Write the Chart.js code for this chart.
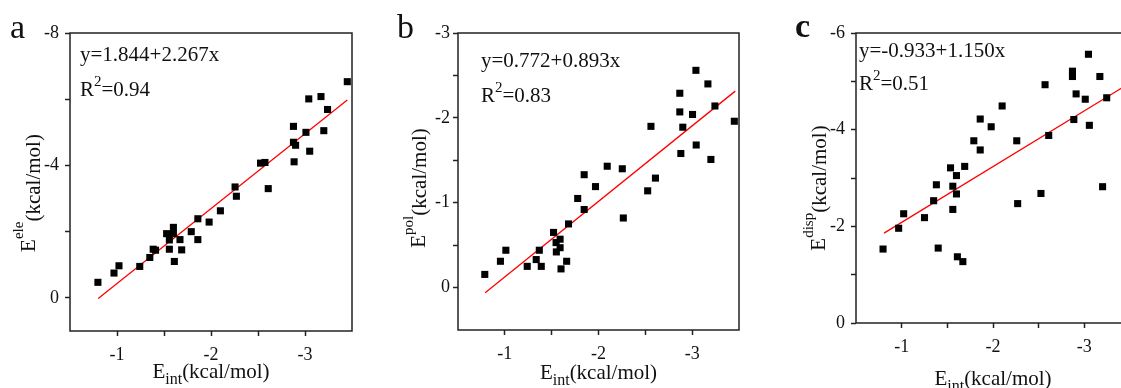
<!DOCTYPE html>
<html><head><meta charset="utf-8">
<script src="https://cdn.jsdelivr.net/npm/chart.js@4/dist/chart.umd.min.js"></script>
<style>
html,body{margin:0;padding:0;background:#fff;overflow:hidden;width:1121px;height:388px;position:relative;}
canvas{position:absolute;top:0;}
</style></head><body>
<canvas id="ca" width="380" height="388" style="left:0px;width:380px;height:388px"></canvas>
<canvas id="cb" width="380" height="388" style="left:380px;width:380px;height:388px"></canvas>
<canvas id="cc" width="380" height="388" style="left:760px;width:380px;height:388px"></canvas>
<script>
// ---------- data ----------
const eintA = [-0.797,-0.968,-1.021,-1.242,-1.349,-1.385,-1.41,-1.528,-1.557,-1.557,-1.60,-1.60,-1.61,-1.67,-1.688,-1.79,-1.86,-1.86,-1.98,-2.10,-2.256,-2.27,-2.527,-2.574,-2.609,-2.877,-2.877,-2.90,-2.884,-3.01,-3.04,-3.05,-3.17,-3.20,-3.24,-3.45];
const eeleA = [-0.47,-0.75,-0.97,-0.95,-1.22,-1.47,-1.44,-1.94,-1.75,-1.47,-2.13,-1.94,-1.10,-1.76,-1.45,-2.00,-2.39,-1.76,-2.29,-2.63,-3.35,-3.07,-4.07,-4.09,-3.30,-5.18,-4.70,-4.61,-4.11,-5.00,-6.01,-4.43,-6.08,-5.05,-5.69,-6.53];
const fitAx = [-0.80, -3.45];
const fitAy = [0.02, -5.98];

const eintB = [-0.786,-0.953,-1.011,-1.239,-1.335,-1.368,-1.389,-1.52,-1.547,-1.55,-1.59,-1.59,-1.60,-1.66,-1.68,-1.778,-1.847,-1.847,-1.968,-2.093,-2.254,-2.265,-2.525,-2.56,-2.608,-2.868,-2.868,-2.879,-2.90,-3.004,-3.04,-3.043,-3.168,-3.20,-3.243,-3.45];
const epolB = [-0.155,-0.31,-0.44,-0.25,-0.33,-0.44,-0.25,-0.65,-0.53,-0.42,-0.57,-0.47,-0.22,-0.31,-0.75,-1.05,-0.92,-1.33,-1.19,-1.43,-1.40,-0.82,-1.14,-1.90,-1.29,-2.29,-2.07,-1.58,-1.89,-2.04,-2.56,-1.68,-2.40,-1.51,-2.14,-1.96];
const fitBx = [-0.79, -3.46];
const fitBy = [0.06, -2.315];

const eintC = [-0.796,-0.967,-1.022,-1.25,-1.35,-1.38,-1.40,-1.535,-1.56,-1.56,-1.60,-1.60,-1.61,-1.67,-1.69,-1.79,-1.86,-1.86,-1.98,-2.10,-2.26,-2.27,-2.525,-2.57,-2.61,-2.87,-2.87,-2.885,-2.91,-3.01,-3.045,-3.055,-3.17,-3.20,-3.245];
const edispC = [-1.53,-1.96,-2.26,-2.18,-2.53,-2.86,-1.55,-3.21,-2.83,-2.35,-3.05,-2.67,-1.37,-1.27,-3.24,-3.77,-4.22,-3.58,-4.06,-4.49,-3.77,-2.47,-2.68,-4.93,-3.88,-5.21,-5.10,-4.21,-4.74,-4.63,-5.56,-4.09,-5.10,-2.82,-4.66];
const fitCx = [-0.807, -3.45];
const fitCy = [-1.86, -4.91];

const xMajor = [-1, -2, -3];
const xMinor = [-1.5, -2.5];
const yMajorA = [-8, -4, 0];   const yMinorA = [-6, -2];
const yMajorB = [-3, -2, -1, 0]; const yMinorB = [-2.5, -1.5, -0.5];
const yMajorC = [-6, -4, -2, 0]; const yMinorC = [-5, -3, -1];

const eqA = 'y=1.844+2.267x', r2A = '=0.94';
const eqB = 'y=0.772+0.893x', r2B = '=0.83';
const eqC = 'y=-0.933+1.150x', r2C = '=0.51';

// ---------- helpers ----------
const FONT = '"Liberation Serif", "Times New Roman", serif';
const INK = '#111';
function zip(xs, ys){ return xs.map((x,i)=>({x:x, y:ys[i]})); }
function rich(ctx, x, y, segs, align){
  let w = 0;
  segs.forEach(s=>{ ctx.font = (s.bold?'bold ':'') + s.size + 'px ' + FONT; s.w = ctx.measureText(s.t).width; w += s.w; });
  let cx = align === 'center' ? x - w/2 : x;
  segs.forEach(s=>{ ctx.font = (s.bold?'bold ':'') + s.size + 'px ' + FONT; ctx.fillText(s.t, cx, y + (s.dy||0)); cx += s.w; });
}

const decor = {
  id: 'decor',
  afterDraw(chart, args, o){
    const ctx = chart.ctx, ca = chart.chartArea;
    ctx.save();
    ctx.strokeStyle = '#222'; ctx.lineWidth = 1.5;
    ctx.strokeRect(ca.left, ca.top, ca.right - ca.left, ca.bottom - ca.top);
    ctx.fillStyle = INK; ctx.textBaseline = 'alphabetic';
    // panel letter
    rich(ctx, o.letterX, o.letterY, [{t:o.letter, size:34, bold:o.letterBold}], 'left');
    // equation + R2
    rich(ctx, ca.left + o.eqDx, ca.top + o.eqDy, [{t:o.eq, size:21}], 'left');
    rich(ctx, ca.left + o.eqDx, ca.top + o.r2Dy, [{t:'R', size:21},{t:'2', size:15, dy:-10},{t:o.r2, size:21}], 'left');
    // x title
    rich(ctx, (ca.left + ca.right)/2, o.xTitleY, [{t:'E', size:21},{t:'int', size:16, dy:6},{t:'(kcal/mol)', size:21}], 'center');
    // y title
    ctx.save();
    ctx.translate(o.yTitleX, o.yTitleY);
    ctx.rotate(-Math.PI/2);
    rich(ctx, 0, 0, [{t:'E', size:21},{t:o.ysup, size:15, dy:-12},{t:'(kcal/mol)', size:21, dy:o.yShift}], 'center');
    ctx.restore();
    ctx.restore();
  }
};

function makeChart(id, pts, fit, cfg){
  const xTicks = xMajor.concat(xMinor).sort((a,b)=>a-b);
  const yTicks = cfg.yMajor.concat(cfg.yMinor).sort((a,b)=>a-b);
  const W = 380, H = 388;
  return new Chart(document.getElementById(id), {
    type: 'scatter',
    data: { datasets: [
      { data: pts, backgroundColor: '#000', borderWidth: 0, pointStyle: 'rect', pointRadius: 5, pointHoverRadius: 5 },
      { type: 'line', data: fit, borderColor: '#ff0000', borderWidth: 1.3, pointRadius: 0, fill: false, showLine: true, tension: 0 }
    ]},
    options: {
      responsive: false, animation: false, devicePixelRatio: 1,
      layout: { padding: { left: 0, top: cfg.ca[1], right: W - cfg.ca[2], bottom: 0 } },
      plugins: { legend: { display: false }, tooltip: { enabled: false }, decor: cfg.decor },
      scales: {
        x: {
          type: 'linear', reverse: true, min: -3.5, max: -0.5,
          afterFit: s => { s.height = H - cfg.ca[3]; },
          afterBuildTicks: s => { s.ticks = xTicks.map(v => ({ value: v })); },
          grid: { display: true, drawOnChartArea: false, drawTicks: true, tickLength: 5, tickColor: '#222', tickWidth: 1.5 },
          border: { display: false },
          ticks: { autoSkip: false, maxRotation: 0, padding: 8, color: INK, font: { family: FONT, size: 18 },
                   callback: v => xMajor.includes(v) ? String(v) : '' }
        },
        y: {
          type: 'linear', reverse: true, min: cfg.yMin, max: cfg.yMax,
          afterFit: s => { s.width = cfg.ca[0]; },
          afterBuildTicks: s => { s.ticks = yTicks.map(v => ({ value: v })); },
          grid: { display: true, drawOnChartArea: false, drawTicks: true, tickLength: 5, tickColor: '#222', tickWidth: 1.5 },
          border: { display: false },
          ticks: { autoSkip: false, padding: cfg.yPad, color: INK, font: { family: FONT, size: 18 },
                   callback: v => cfg.yMajor.includes(v) ? String(v) : '' }
        }
      }
    },
    plugins: [decor]
  });
}

makeChart('ca', zip(eintA, eeleA), zip(fitAx, fitAy), {
  ca: [70, 33, 352, 331], yMin: -8, yMax: 1, yMajor: yMajorA, yMinor: yMinorA, yPad: 6,
  decor: { letter: 'a', letterX: 10, letterY: 38, eq: eqA, r2: r2A, eqDx: 10, eqDy: 28, r2Dy: 63,
           xTitleY: 378, yTitleX: 35, yTitleY: 193, ysup: 'ele', yShift: 5 }
});
makeChart('cb', zip(eintB, epolB), zip(fitBx, fitBy), {
  ca: [78, 33, 359, 330], yMin: -3, yMax: 0.5, yMajor: yMajorB, yMinor: yMinorB, yPad: 3,
  decor: { letter: 'b', letterX: 17, letterY: 38, eq: eqB, r2: r2B, eqDx: 23, eqDy: 34, r2Dy: 69,
           xTitleY: 379, yTitleX: 45, yTitleY: 188, ysup: 'pol', yShift: 1 }
});
makeChart('cc', zip(eintC, edispC), zip(fitCx, fitCy), {
  ca: [96, 33, 370, 323], yMin: -6, yMax: 0, yMajor: yMajorC, yMinor: yMinorC, yPad: 6,
  decor: { letter: 'c', letterX: 35, letterY: 37, letterBold: true, eq: eqC, r2: r2C, eqDx: 3, eqDy: 24, r2Dy: 57,
           xTitleY: 385, yTitleX: 65, yTitleY: 188, ysup: 'disp', yShift: 1 }
});
</script>
</body></html>
